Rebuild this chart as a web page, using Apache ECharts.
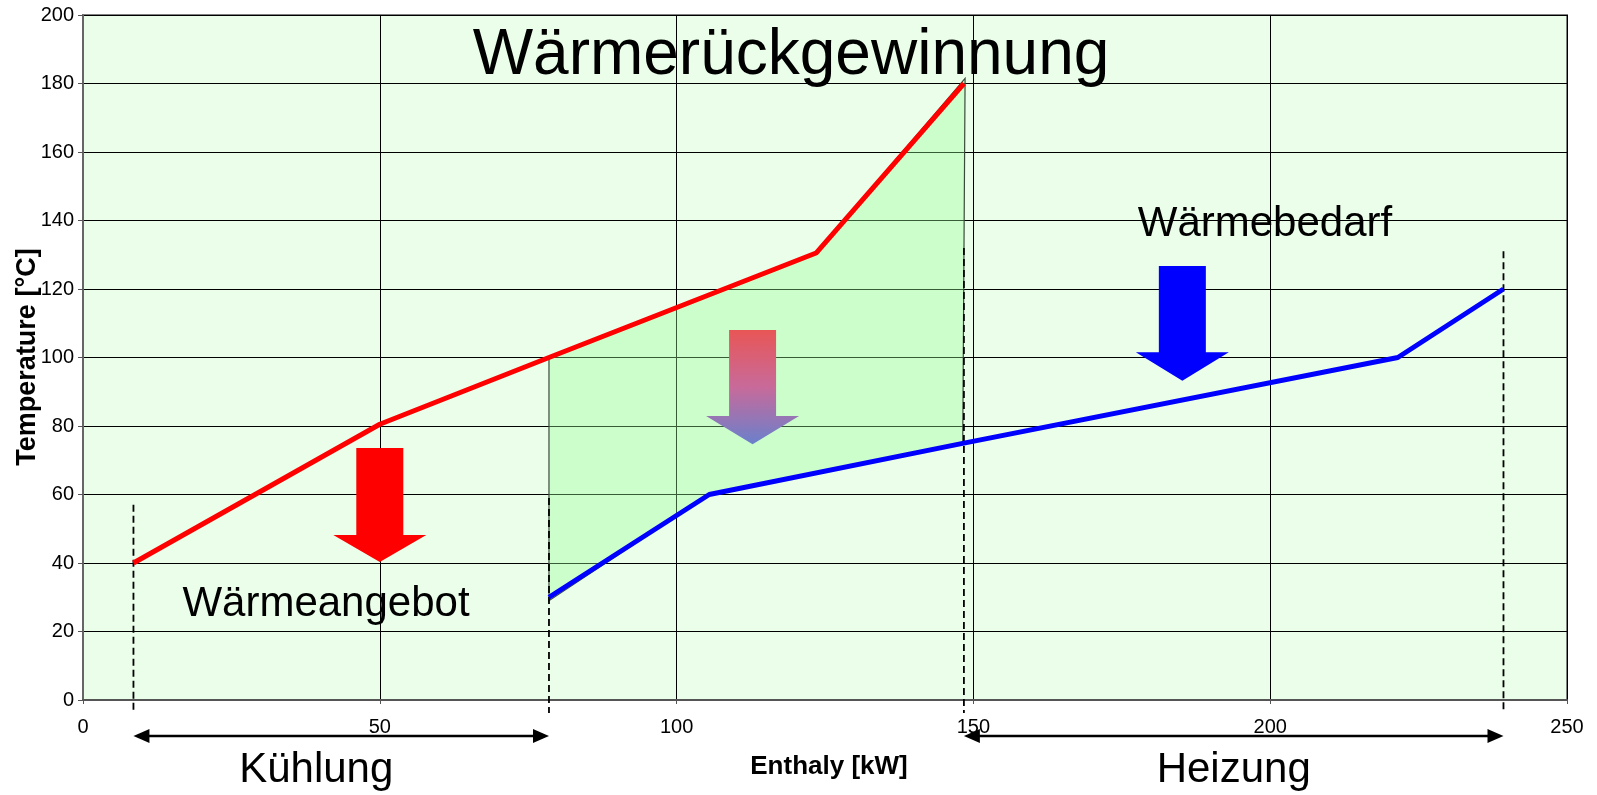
<!DOCTYPE html>
<html>
<head>
<meta charset="utf-8">
<title>Wärmerückgewinnung</title>
<script src="https://cdn.jsdelivr.net/npm/echarts@6/dist/echarts.min.js"></script>
<style>
  html, body { margin: 0; padding: 0; background: #fff; }
  #chart { width: 1597px; height: 795px; }
</style>
</head>
<body>
<div id="chart"></div>
<script>
// hot stream (Wärmeangebot) and cold stream (Wärmebedarf), [enthalpy kW, temperature °C]
var hotStream = [[8.5, 40], [50, 80.5], [78.5, 100], [123.5, 130.5], [148.4, 180]];
var coldStream = [[78.5, 30], [105.5, 60], [148.4, 75], [221.5, 100], [239.3, 120]];
// recovered heat region
var overlapPoly = [[78.5, 100], [123.5, 130.5], [148.6, 181.5], [148.2, 75], [105.5, 60], [78.5, 29]];
// dashed markers: [x, top temperature]
var dashMarks = [[8.5, 57], [78.5, 59], [148.4, 132], [239.3, 131]];
// ranges below the axis: [from, to]
var spans = [[8.5, 78.5], [148.4, 239.3]];
var spanNames = ["Kühlung", "Heizung"];
// block arrows: [x, top, shaft bottom, tip]
var blockArrows = [[50, 73.6, 48.2, 40.3], [185.2, 126.7, 101.5, 93.2], [112.8, 108, 82.9, 74.7]];
var xTicks = [0, 50, 100, 150, 200, 250];
var yTicks = [0, 20, 40, 60, 80, 100, 120, 140, 160, 180, 200];

var font = "'Liberation Sans', Arial, sans-serif";
var arrowFills = [
    "#ff0000",
    "#0000ff",
    {type: "linear", x: 0, y: 0, x2: 0, y2: 1, colorStops: [
        {offset: 0, color: "#e85656"},
        {offset: 0.5, color: "#c86a9a"},
        {offset: 1, color: "#6a80cc"}
    ]}
];
var spanShift = [-25, 0];

var chart = echarts.init(document.getElementById("chart"));

var option = {
    animation: false,
    textStyle: {fontFamily: font},
    grid: {
        left: 83, right: 30, top: 15, bottom: 95,
        outerBoundsMode: "none",
        containLabel: false,
        show: true,
        backgroundColor: "#eafeea",
        borderColor: "#808080",
        borderWidth: 2
    },
    xAxis: {
        type: "value",
        min: xTicks[0],
        max: xTicks[xTicks.length - 1],
        interval: 50,
        name: "Enthaly [kW]",
        nameLocation: "middle",
        nameGap: 54,
        nameMoveOverlap: false,
        nameTextStyle: {fontSize: 26, fontWeight: "bold", color: "#000", fontFamily: font, padding: [0, 0, 0, 8]},
        axisLine: {lineStyle: {color: "#555", width: 2}},
        axisTick: {show: true, length: 4, lineStyle: {color: "#555"}},
        axisLabel: {fontSize: 20, color: "#000", margin: 17, fontFamily: font},
        splitLine: {show: true, lineStyle: {color: "#000", width: 1}}
    },
    yAxis: {
        type: "value",
        min: yTicks[0],
        max: yTicks[yTicks.length - 1],
        interval: 20,
        axisLine: {show: true, lineStyle: {color: "#666", width: 2}},
        axisTick: {show: true, length: 5, lineStyle: {color: "#555"}},
        axisLabel: {fontSize: 20, color: "#000", margin: 9, fontFamily: font},
        splitLine: {show: true, lineStyle: {color: "#000", width: 1}}
    },
    series: [
        {
            name: "Wärmerückgewinnung",
            type: "custom",
            clip: false,
            z: 2,
            data: overlapPoly,
            encode: {x: 0, y: 1},
            renderItem: function (params, api) {
                if (params.dataIndex !== 0) return;
                var pts = overlapPoly.map(function (p) { return api.coord(p); });
                return {
                    type: "polygon",
                    shape: {points: pts},
                    style: {fill: "rgba(150,255,150,0.36)", stroke: "#3a4a3a", lineWidth: 1.2}
                };
            }
        },
        {
            name: "marks",
            type: "custom",
            clip: false,
            z: 3,
            data: dashMarks,
            encode: {x: 0, y: 1},
            renderItem: function (params, api) {
                var top = api.coord([api.value(0), api.value(1)]);
                var bot = api.coord([api.value(0), 0]);
                return {
                    type: "line",
                    shape: {x1: top[0], y1: top[1], x2: bot[0], y2: bot[1] + 13},
                    style: {stroke: "#000", lineWidth: 1.8, lineDash: [7, 4]}
                };
            }
        },
        {
            name: "Wärmeangebot",
            type: "line",
            data: hotStream,
            showSymbol: false,
            symbol: "none",
            z: 5,
            lineStyle: {color: "#ff0000", width: 5},
            itemStyle: {color: "#ff0000"}
        },
        {
            name: "Wärmebedarf",
            type: "line",
            data: coldStream,
            showSymbol: false,
            symbol: "none",
            z: 5,
            lineStyle: {color: "#0000ff", width: 5},
            itemStyle: {color: "#0000ff"}
        },
        {
            name: "arrows",
            type: "custom",
            clip: false,
            z: 6,
            data: blockArrows,
            encode: {x: 0, y: [1, 2, 3]},
            renderItem: function (params, api) {
                var x = api.value(0);
                var top = api.coord([x, api.value(1)]);
                var mid = api.coord([x, api.value(2)]);
                var tip = api.coord([x, api.value(3)]);
                var cx = top[0], sw = 23.5, hw = 46.5;
                return {
                    type: "polygon",
                    shape: {points: [
                        [cx - sw, top[1]], [cx + sw, top[1]], [cx + sw, mid[1]],
                        [cx + hw, mid[1]], [cx, tip[1]], [cx - hw, mid[1]], [cx - sw, mid[1]]
                    ]},
                    style: {fill: arrowFills[params.dataIndex]}
                };
            }
        },
        {
            name: "spans",
            type: "custom",
            clip: false,
            z: 6,
            data: spans,
            encode: {x: [0, 1]},
            renderItem: function (params, api) {
                var a = api.coord([api.value(0), 0]);
                var b = api.coord([api.value(1), 0]);
                var y = a[1] + 36, L = 16, H = 7;
                return {
                    type: "group",
                    children: [
                        {type: "line", shape: {x1: a[0] + L - 2, y1: y, x2: b[0] - L + 2, y2: y},
                            style: {stroke: "#000", lineWidth: 2.4}},
                        {type: "polygon", shape: {points: [[a[0], y], [a[0] + L, y - H], [a[0] + L, y + H]]},
                            style: {fill: "#000"}},
                        {type: "polygon", shape: {points: [[b[0], y], [b[0] - L, y - H], [b[0] - L, y + H]]},
                            style: {fill: "#000"}},
                        {type: "text", x: (a[0] + b[0]) / 2 + spanShift[params.dataIndex], y: y + 34,
                            style: {text: spanNames[params.dataIndex], fontSize: 42, fontFamily: font,
                                fill: "#000", align: "center", verticalAlign: "middle"}}
                    ]
                };
            }
        }
    ],
    graphic: [
        {type: "text", x: 791, y: 56, z: 10,
            style: {text: "Wärmerückgewinnung", fontSize: 64, fontFamily: font, fill: "#000",
                align: "center", verticalAlign: "middle"}},
        {type: "text", x: 326, y: 604, z: 10,
            style: {text: "Wärmeangebot", fontSize: 42, fontFamily: font, fill: "#000",
                align: "center", verticalAlign: "middle"}},
        {type: "text", x: 1265, y: 224, z: 10,
            style: {text: "Wärmebedarf", fontSize: 42, fontFamily: font, fill: "#000",
                align: "center", verticalAlign: "middle"}},
        {type: "text", x: 28, y: 357, rotation: Math.PI / 2, z: 10,
            style: {text: "Temperature [°C]", fontSize: 27, fontWeight: "bold", fontFamily: font,
                fill: "#000", align: "center", verticalAlign: "middle"}}
    ]
};

chart.setOption(option);
</script>
</body>
</html>
